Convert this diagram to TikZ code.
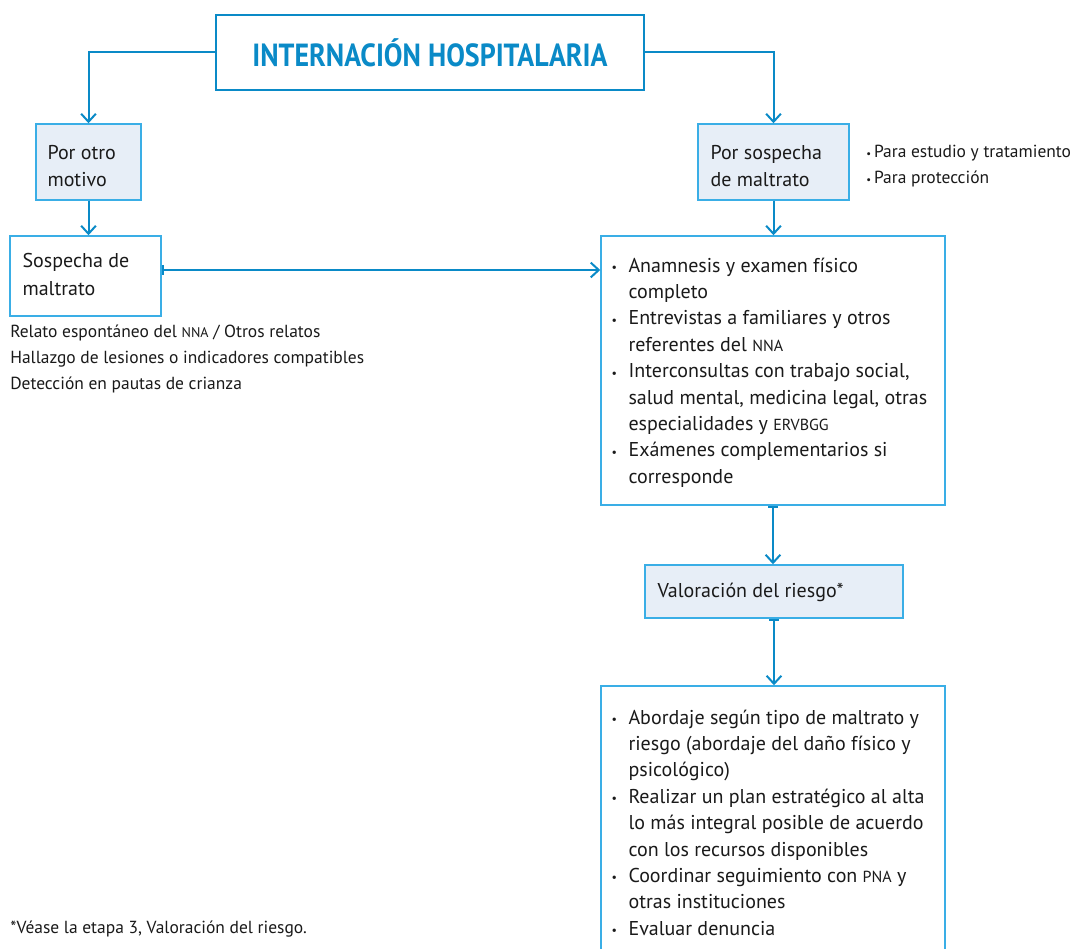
\documentclass[tikz,border=0pt]{standalone}
\usepackage{fontspec}
\setmainfont{PT Sans}
\usetikzlibrary{arrows.meta}
\definecolor{dblue}{HTML}{0A8AC7}
\definecolor{lblue}{HTML}{3AAEE6}
\definecolor{lfill}{HTML}{E7EEF7}
\definecolor{txtc}{HTML}{1A1A1A}
\newcommand\smc[1]{\scalebox{0.8}{#1}}
\newcommand\bul{\makebox[12.75pt][l]{\raisebox{0.5pt}{\fontsize{9pt}{9pt}\selectfont •}}}
\newcommand\ind{\makebox[12.75pt]{}}
\newcommand\sbul{{\fontsize{8pt}{8pt}\selectfont •}\,}
\tikzset{
  box/.style={draw=lblue, line width=1.1pt, inner sep=0pt},
  fbox/.style={box, fill=lfill},
  wbox/.style={box, fill=white},
  body/.style={font=\fontsize{15pt}{19.8pt}\selectfont, text=txtc, align=left, inner sep=0pt},
  boxt/.style={font=\fontsize{15pt}{20.8pt}\selectfont, text=txtc, align=left, inner sep=0pt},
  small/.style={font=\fontsize{13.1pt}{19.8pt}\selectfont, text=txtc, align=left, inner sep=0pt},
  conn/.style={draw=dblue, line width=1.5pt, -{Straight Barb[length=6pt,width=11pt]}},
  bconn/.style={draw=dblue, line width=1.5pt, {Bar[width=7pt]}-{Straight Barb[length=6pt,width=11pt]}},
}
\begin{document}
\begin{tikzpicture}[x=0.75pt, y=-0.75pt]
\useasboundingbox (0,0) rectangle (1078,949);
\clip (0,0) rectangle (1078,949);
\fill[white] (0,0) rectangle (1078,949);

% title
\node[draw=dblue, line width=1.6pt, minimum width=321pt, minimum height=56.25pt, inner sep=0pt,
      font=\fontsize{24pt}{24pt}\selectfont\bfseries, text=dblue] (title) at (430,52.5)
      {\scalebox{0.873}[1]{INTERNACIÓN HOSPITALARIA}};

% boxes
\node[fbox, minimum width=78.75pt, minimum height=57pt] (otro) at (88.5,162) {};
\node[wbox, minimum width=113.25pt, minimum height=60pt] (sosp) at (85.5,276) {};
\node[fbox, minimum width=113.25pt, minimum height=57pt] (porsos) at (773.5,162) {};
\node[wbox, minimum width=258pt, minimum height=201.75pt] (big) at (773,370.5) {};
\node[fbox, minimum width=193.5pt, minimum height=39.75pt] (val) at (774,591.5) {};
\node[wbox, minimum width=258pt, minimum height=203.25pt] (fin) at (773,821.5) {};

% box texts
\node[boxt, anchor=west] (totro) at ([xshift=9pt,yshift=-3pt]otro.west) {Por otro\\motivo};
\node[boxt, anchor=west] (tsosp) at ([xshift=9.75pt,yshift=1pt]sosp.west) {Sospecha de\\maltrato};
\node[boxt, anchor=west] (tporsos) at ([xshift=9.75pt,yshift=-3pt]porsos.west) {Por sospecha\\de maltrato};
\node[body, anchor=west] (tval) at ([xshift=9.75pt,yshift=-0.5pt]val.west) {Valoración del riesgo*};
\node[body, anchor=west] (tbig) at ([xshift=8.25pt,yshift=-1.5pt]big.west) {%
\bul Anamnesis y examen físico\\
\ind completo\\
\bul Entrevistas a familiares y otros\\
\ind referentes del \smc{NNA}\\
\bul Interconsultas con trabajo social,\\
\ind salud mental, medicina legal, otras\\
\ind especialidades y \smc{ERVBGG}\\
\bul Exámenes complementarios si\\
\ind corresponde};
\node[body, anchor=west] (tfin) at ([xshift=8.25pt,yshift=-0.8pt]fin.west) {%
\bul Abordaje según tipo de maltrato y\\
\ind riesgo (abordaje del daño físico y\\
\ind psicológico)\\
\bul Realizar un plan estratégico al alta\\
\ind lo más integral posible de acuerdo\\
\ind con los recursos disponibles\\
\bul Coordinar seguimiento con \smc{PNA} y\\
\ind otras instituciones\\
\bul Evaluar denuncia};

% annotations
\node[small, anchor=west] (side) at (866,166) {\sbul Para estudio y tratamiento\\\sbul Para protección};
\node[small, anchor=west] (left) at (10,359) {Relato espontáneo del \smc{NNA} / Otros relatos\\Hallazgo de lesiones o indicadores compatibles\\Detección en pautas de crianza};
\node[small, anchor=west] (foot) at (10,929) {*Véase la etapa 3, Valoración del riesgo.};

% connectors
\draw[conn] (title.west) -| (otro.north);
\draw[conn] (title.east) -| (porsos.north);
\draw[conn] (otro.south) -- (otro.south |- sosp.north);
\draw[conn] (porsos.south) -- (porsos.south |- big.north);
\coordinate (s1) at ([yshift=4.5pt]sosp.east);
\draw[bconn] (s1) -- (s1 -| big.west);
\draw[bconn] (big.south) -- (big.south |- val.north);
\draw[bconn] (val.south) -- (val.south |- fin.north);
\end{tikzpicture}
\end{document}
